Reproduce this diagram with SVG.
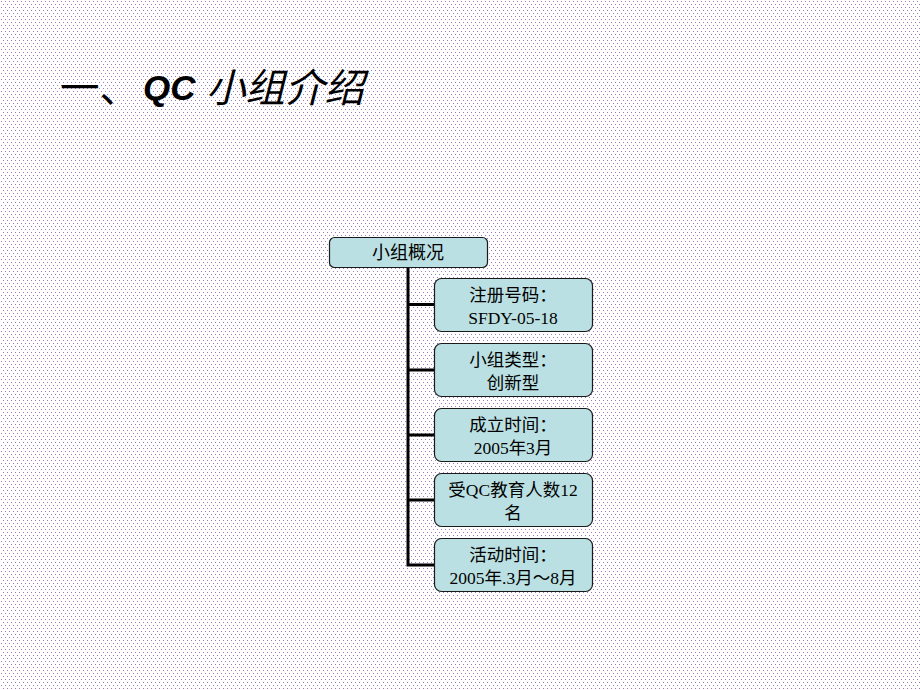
<svg xmlns="http://www.w3.org/2000/svg" width="920" height="690" viewBox="0 0 920 690">
<defs>
<pattern id="dots" x="0" y="0" width="4" height="6" patternUnits="userSpaceOnUse">
<rect x="1" y="1" width="1" height="1" fill="#a07cbc"/>
<rect x="3" y="4" width="1" height="1" fill="#a07cbc"/>
</pattern>
</defs>
<style>
.box{fill:#bbe0e3;stroke:#1a1a1a;stroke-width:1.2}
.root{font-family:"Liberation Sans","Noto Sans CJK SC",sans-serif;font-size:18px;fill:#000}
.t{font-family:"Liberation Serif","Noto Sans CJK SC",serif;font-size:17.5px;fill:#000;text-anchor:middle}
.ln{stroke:#000;stroke-width:3;fill:none}
.ti{font-family:"Liberation Sans","Noto Sans CJK SC",sans-serif;font-size:39.5px;fill:#000}
</style>
<rect width="920" height="690" fill="#fff"/>
<rect width="920" height="690" fill="url(#dots)"/>
<text class="ti" x="60" y="102">一、<tspan font-weight="bold" font-style="italic" font-size="35" x="143" y="100">QC</tspan><tspan font-style="italic" x="206" y="102">小组介绍</tspan></text>
<g id="connectors">
<path class="ln" d="M408 267 V566.5 M408 304.5 H434 M408 370 H434 M408 435 H434 M408 500 H434 M408 565 H434"/>
</g>
<g id="root">
<rect class="box" x="329.5" y="237.5" width="158" height="30" rx="5"/>
<text class="root" x="408" y="259" text-anchor="middle">小组概况</text>
</g>
<g id="n1">
<rect class="box" x="434.5" y="278.5" width="158" height="53" rx="7"/>
<text class="t" x="513" y="301">注册号码：</text>
<text class="t" x="513" y="324">SFDY-05-18</text>
</g>
<g id="n2">
<rect class="box" x="434.5" y="343.5" width="158" height="53" rx="7"/>
<text class="t" x="513" y="366">小组类型：</text>
<text class="t" x="513" y="389">创新型</text>
</g>
<g id="n3">
<rect class="box" x="434.5" y="408.5" width="158" height="53" rx="7"/>
<text class="t" x="513" y="431">成立时间：</text>
<text class="t" x="513" y="454">2005年3月</text>
</g>
<g id="n4">
<rect class="box" x="434.5" y="473.5" width="158" height="53" rx="7"/>
<text class="t" x="513" y="496">受QC教育人数12</text>
<text class="t" x="513" y="519">名</text>
</g>
<g id="n5">
<rect class="box" x="434.5" y="538.5" width="158" height="53" rx="7"/>
<text class="t" x="513" y="561">活动时间：</text>
<text class="t" x="513" y="584">2005年.3月～8月</text>
</g>
</svg>
